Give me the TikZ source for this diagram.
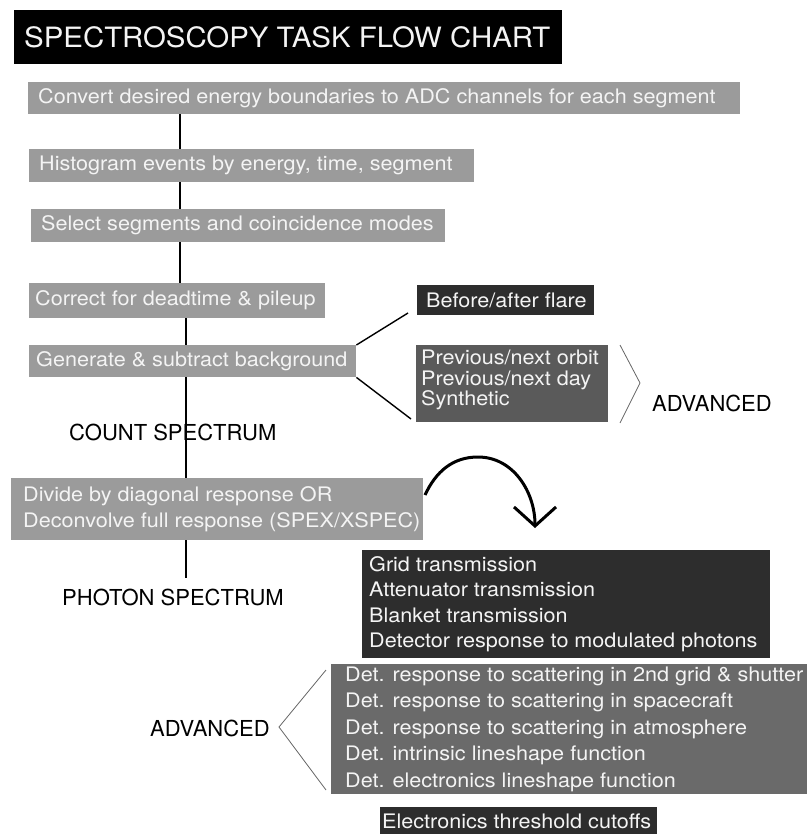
\documentclass[tikz,border=0pt]{standalone}
\usepackage{fontspec}
\setmainfont{TeX Gyre Heros}[FakeStretch=1.08]
\newfontfamily\plainf{TeX Gyre Heros}
\usetikzlibrary{arrows.meta}
\definecolor{lgray}{HTML}{9B9B9B}
\definecolor{mgray}{HTML}{5A5A5A}
\definecolor{dgray}{HTML}{2D2D2D}
\definecolor{detgray}{HTML}{6A6A6A}
\definecolor{txtw}{HTML}{F4F4F4}
\begin{document}
\begin{tikzpicture}[x=1pt,y=-1pt,
  box/.style={anchor=north west, inner sep=0pt, draw=none},
  btext/.style={anchor=west, inner sep=0pt, align=left, text=txtw,
    font=\fontsize{20}{25.5}\selectfont},
  plain/.style={anchor=west, inner sep=0pt, font=\plainf\fontsize{22}{24}\selectfont, text=black},
  vline/.style={line width=1.6pt, black},
  diag/.style={line width=1.4pt, black},
  brack/.style={line width=0.8pt, black!60},
]
\useasboundingbox (0,0) rectangle (806,834);
% title
\node[box, fill=black, minimum width=548pt, minimum height=54pt] (title) at (14,10) {};
\node[btext, font=\plainf\fontsize{28}{30}\selectfont, xshift=10pt] (titletxt) at (title.west)
  {\scalebox{1.05}[1]{SPECTROSCOPY TASK FLOW CHART}};
% main column
\node[box, fill=lgray, minimum width=712pt, minimum height=32pt] (b1) at (28,82) {};
\node[btext, xshift=10pt] (t1) at (b1.west)
  {Convert desired energy boundaries to ADC channels for each segment};
\node[box, fill=lgray, minimum width=445pt, minimum height=33pt] (b2) at (29,149) {};
\node[btext, xshift=10pt] (t2) at (b2.west) {Histogram events by energy, time, segment};
\node[box, fill=lgray, minimum width=414pt, minimum height=33pt] (b3) at (31,209) {};
\node[btext, xshift=10pt] (t3) at (b3.west) {Select segments and coincidence modes};
\node[box, fill=lgray, minimum width=296pt, minimum height=35pt] (b4) at (29,283) {};
\node[btext, xshift=6pt] (t4) at (b4.west) {Correct for deadtime \& pileup};
\node[box, fill=lgray, minimum width=327pt, minimum height=32pt] (b5) at (29,345) {};
\node[btext, xshift=7pt] (t5) at (b5.west) {Generate \& subtract background};
\node[box, fill=lgray, minimum width=412pt, minimum height=62pt] (b6) at (11,478) {};
\node[btext, xshift=12pt] (t6) at (b6.west)
  {Divide by diagonal response OR\\Deconvolve full response (SPEX/XSPEC)};
% background options
\node[box, fill=dgray, minimum width=177pt, minimum height=30pt] (flare) at (417,285) {};
\node[btext, xshift=9pt] (flaretxt) at (flare.west) {Before/after flare};
\node[box, fill=mgray, minimum width=192pt, minimum height=77pt] (prev) at (416,345) {};
\node[btext, anchor=north west, font=\fontsize{20}{20.5}\selectfont] (prevtxt) at (421,350)
  {Previous/next orbit\\Previous/next day\\Synthetic};
\node[plain] (adv1) at (652,403) {ADVANCED};
\node[plain] (count) at (69,432) {COUNT SPECTRUM};
\node[plain] (photon) at (62,597) {PHOTON SPECTRUM};
% response boxes
\node[box, fill=dgray, minimum width=408pt, minimum height=108pt] (grid) at (362,550) {};
\node[btext, xshift=7pt] (gridtxt) at (grid.west)
  {Grid transmission\\Attenuator transmission\\Blanket transmission\\Detector response to modulated photons};
\node[box, fill=detgray, minimum width=480pt, minimum height=130pt] (det) at (331,664) {};
\node[btext, xshift=14pt, font=\fontsize{20}{26.5}\selectfont] (dettxt) at (det.west)
  {Det. response to scattering in 2nd grid \& shutter\\Det. response to scattering in spacecraft\\Det. response to scattering in atmosphere\\Det. intrinsic lineshape function\\Det. electronics lineshape function};
\node[plain] (adv2) at (150,728) {ADVANCED};
\node[box, fill=dgray, minimum width=277pt, minimum height=32pt] (elec) at (380,807) {};
\node[btext, xshift=2pt, yshift=2pt] (electxt) at (elec.west) {Electronics threshold cutoffs};
% connectors
\draw[vline] (180,0 |- b1.south) -- (180,0 |- b2.north);
\draw[vline] (180,0 |- b2.south) -- (180,0 |- b3.north);
\draw[vline] (180,0 |- b3.south) -- (180,0 |- b4.north);
\draw[vline] (186,0 |- b4.south) -- (186,0 |- b5.north);
\draw[vline] (186,0 |- b5.south) -- (186,0 |- b6.north);
\coordinate (pend) at (186,578);
\draw[vline] (186,0 |- b6.south) -- (pend);
\coordinate (f1) at (408,313);
\coordinate (f2) at (411,419);
\draw[diag] (b5.north east) -- (f1);
\draw[diag] (b5.south east) -- (f2);
\coordinate (k1) at (620,345);
\coordinate (k2) at (640,383);
\coordinate (k3) at (620,423);
\draw[brack] (k1) -- (k2) -- (k3);
\coordinate (m1) at (326,670);
\coordinate (m2) at (279,727);
\coordinate (m3) at (326,790);
\draw[brack] (m1) -- (m2) -- (m3);
\coordinate (astart) at (425,495);
\coordinate (atop) at (478,457);
\coordinate (aend) at (535,528);
\draw[line width=3pt, -{Straight Barb[length=19pt, width=42pt, line width=3pt]}]
  (astart) to[out=65,in=180] (atop) to[out=0,in=90] (aend);
\end{tikzpicture}
\end{document}
